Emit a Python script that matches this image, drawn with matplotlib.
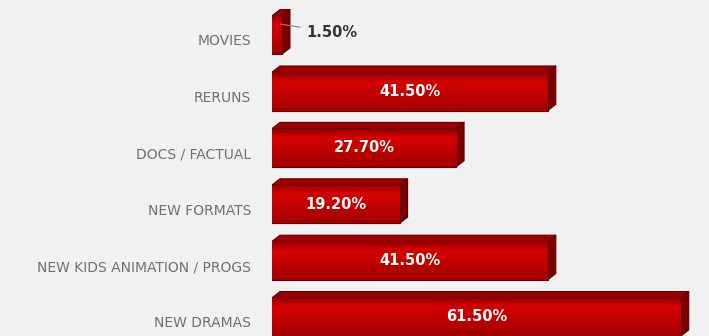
import matplotlib.pyplot as plt
import matplotlib.transforms as mtransforms
from matplotlib.patches import Polygon
import numpy as np

categories = ["MOVIES", "RERUNS", "DOCS / FACTUAL", "NEW FORMATS",
              "NEW KIDS ANIMATION / PROGS", "NEW DRAMAS"]
shares = [1.5, 41.5, 27.7, 19.2, 41.5, 61.5]
labels = ["1.50%", "41.50%", "27.70%", "19.20%", "41.50%", "61.50%"]

bg = "#f1f1f1"
front = "#c20000"
top_c = "#9c0000"
side_c = "#7a0000"
edge_c = "#5e0000"

fig = plt.figure(figsize=(7.09, 3.36), dpi=100, facecolor=bg)
ax = fig.add_axes([272 / 709, 0, 432 / 709, 1])
ax.set_facecolor(bg)

y = np.arange(len(categories))
h = 0.68
dx, dy = 1.2, 0.11   # extrusion depth (data units)

bars = ax.barh(y, shares, height=h, color=front, edgecolor=edge_c,
               linewidth=0.8, zorder=3)
for b in bars:
    b.set_joinstyle("round")

# shading gradient on the front faces
grad = np.concatenate([np.linspace(0.7, 1.05, 25), np.linspace(1.05, 0.78, 75)])
shade = np.zeros((100, 1, 4))
for k, g in enumerate(grad):
    shade[k, 0] = (min(0.76 * g + 0.04, 1.0), 0.0, 0.0, 1.0)

for yi, v, bar in zip(y, shares, bars):
    y0, y1 = yi - h / 2, yi + h / 2
    im = ax.imshow(shade, extent=(0, v, y1, y0), aspect="auto",
                   zorder=3.5, interpolation="bicubic")
    im.set_clip_path(bar)
    # top face
    ax.add_patch(Polygon([(0, y0), (v, y0), (v + dx, y0 - dy), (dx, y0 - dy)],
                         closed=True, facecolor=top_c, edgecolor=edge_c,
                         linewidth=0.8, joinstyle="round", zorder=2.5))
    # side face
    ax.add_patch(Polygon([(v, y0), (v + dx, y0 - dy), (v + dx, y1 - dy), (v, y1)],
                         closed=True, facecolor=side_c, edgecolor=edge_c,
                         linewidth=0.8, joinstyle="round", zorder=2.5))

for yi, v, lab in zip(y, shares, labels):
    if v < 5:
        ax.annotate(lab, xy=(v * 0.6, yi - 0.2), xytext=(v + 3.6, yi - 0.05),
                    ha="left", va="center", fontsize=10.5, fontweight="bold",
                    color="#333333",
                    arrowprops=dict(arrowstyle="-", color="#888888", lw=0.8),
                    zorder=5)
    else:
        ax.text(v / 2, yi, lab, ha="center", va="center", fontsize=10.5,
                fontweight="bold", color="white", zorder=5)

ax.set_xlim(0, 65)
ax.set_ylim(5.337, -0.62)
ax.set_yticks(y, categories)
ax.tick_params(axis="y", length=0, pad=15, labelsize=10, labelcolor="#707070")
offset = mtransforms.ScaledTranslation(0, -5 / 100, fig.dpi_scale_trans)
for t in ax.get_yticklabels():
    t.set_transform(t.get_transform() + offset)
ax.set_xticks([])
for s in ax.spines.values():
    s.set_visible(False)

fig.savefig("out.png", dpi=100, facecolor=bg)
